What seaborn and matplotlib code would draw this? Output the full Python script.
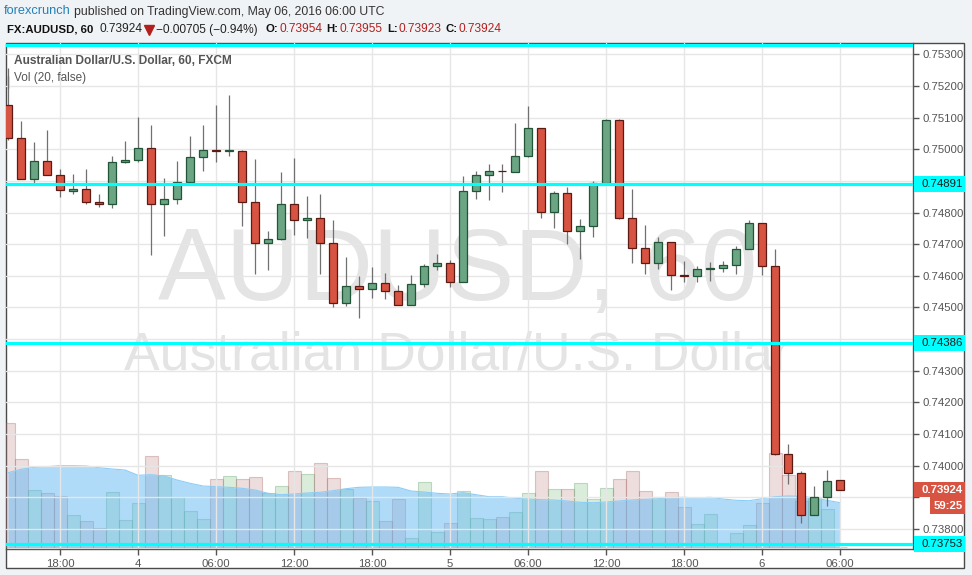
import numpy as np
import pandas as pd
import matplotlib
matplotlib.use("Agg")
import matplotlib.pyplot as plt
import matplotlib.transforms as mtransforms
from matplotlib.patches import Rectangle
from matplotlib.lines import Line2D
from matplotlib.ticker import FuncFormatter
import seaborn as sns

# AUDUSD hourly candles, 2016-05-03 14:00 .. 2016-05-06 06:00 UTC
opens = [0.75140, 0.75037, 0.74907, 0.74964, 0.74920, 0.74869, 0.74875, 0.74834, 0.74828, 0.74961,
         0.74967, 0.75005, 0.74828, 0.74843, 0.74897, 0.74974, 0.74998, 0.74995, 0.74996, 0.74834,
         0.74704, 0.74716, 0.74828, 0.74777, 0.74783, 0.74704, 0.74513, 0.74567, 0.74558, 0.74577,
         0.74551, 0.74507, 0.74574, 0.74631, 0.74640, 0.74580, 0.74869, 0.74920, 0.74932, 0.74929,
         0.74980, 0.75066, 0.74802, 0.74862, 0.74742, 0.74758, 0.74894, 0.75094, 0.74783, 0.74688,
         0.74639, 0.74707, 0.74602, 0.74599, 0.74621, 0.74624, 0.74634, 0.74685, 0.74767, 0.74631,
         0.74035, 0.73975, 0.73843, 0.73899, 0.73954]
highs = [0.75257, 0.75089, 0.75022, 0.75060, 0.74937, 0.74921, 0.74937, 0.74857, 0.74978, 0.75025,
         0.75102, 0.75076, 0.74908, 0.74962, 0.75041, 0.75076, 0.75140, 0.75171, 0.74997, 0.74968,
         0.74740, 0.74927, 0.74971, 0.74851, 0.74860, 0.74775, 0.74660, 0.74600, 0.74629, 0.74610,
         0.74571, 0.74603, 0.74638, 0.74670, 0.74650, 0.74914, 0.74930, 0.74952, 0.74952, 0.75083,
         0.75137, 0.75066, 0.74869, 0.74882, 0.74781, 0.74900, 0.75097, 0.75097, 0.74875, 0.74759,
         0.74722, 0.74707, 0.74648, 0.74632, 0.74644, 0.74648, 0.74693, 0.74777, 0.74767, 0.74685,
         0.74068, 0.73982, 0.73935, 0.73986, 0.73955]
lows = [0.75029, 0.74905, 0.74893, 0.74920, 0.74849, 0.74858, 0.74827, 0.74817, 0.74814, 0.74955,
        0.74960, 0.74665, 0.74725, 0.74827, 0.74894, 0.74931, 0.74960, 0.74979, 0.74757, 0.74604,
        0.74617, 0.74712, 0.74728, 0.74719, 0.74607, 0.74500, 0.74503, 0.74465, 0.74531, 0.74528,
        0.74507, 0.74507, 0.74564, 0.74617, 0.74564, 0.74580, 0.74842, 0.74840, 0.74865, 0.74929,
        0.74977, 0.74782, 0.74750, 0.74700, 0.74652, 0.74722, 0.74894, 0.74779, 0.74639, 0.74607,
        0.74621, 0.74556, 0.74579, 0.74579, 0.74582, 0.74611, 0.74607, 0.74685, 0.74602, 0.74033,
        0.73942, 0.73819, 0.73843, 0.73872, 0.73923]
closes = [0.75037, 0.74907, 0.74964, 0.74920, 0.74870, 0.74875, 0.74834, 0.74828, 0.74961, 0.74967,
          0.75005, 0.74828, 0.74843, 0.74897, 0.74974, 0.74999, 0.74996, 0.74997, 0.74834, 0.74704,
          0.74716, 0.74828, 0.74777, 0.74783, 0.74704, 0.74513, 0.74567, 0.74558, 0.74577, 0.74551,
          0.74507, 0.74574, 0.74631, 0.74640, 0.74580, 0.74869, 0.74920, 0.74932, 0.74930, 0.74980,
          0.75066, 0.74802, 0.74862, 0.74742, 0.74758, 0.74894, 0.75094, 0.74783, 0.74688, 0.74640,
          0.74707, 0.74602, 0.74600, 0.74621, 0.74623, 0.74634, 0.74685, 0.74767, 0.74631, 0.74035,
          0.73975, 0.73843, 0.73899, 0.73951, 0.73924]
volumes = [124, 88, 57, 54, 51, 32, 26, 19, 55, 27, 44, 91, 72, 50, 36, 28, 68, 71, 68, 70,
           54, 61, 76, 73, 84, 69, 58, 49, 46, 26, 48, 9, 65, 15, 24, 56, 29, 28, 30, 35,
           54, 76, 58, 58, 64, 48, 59, 68, 76, 56, 50, 55, 40, 23, 33, 2, 14, 22, 44, 94,
           72, 46, 50, 38, 0]
vol_ma = [74.3, 77.7, 79.7, 80.3, 81.3, 81.3, 81.0, 79.3, 78.0, 77.0, 71.7, 72.3, 71.0, 67.0, 63.7,
          61.0, 60.3, 59.7, 58.7, 57.0, 53.7, 52.3, 53.0, 54.0, 54.7, 56.3, 58.3, 59.7, 60.0, 60.0,
          59.7, 56.0, 55.0, 53.7, 53.0, 54.3, 52.3, 50.3, 50.3, 48.7, 48.0, 47.3, 47.0, 46.0, 44.7,
          44.3, 45.0, 46.0, 47.0, 47.7, 48.3, 49.3, 49.7, 49.0, 49.7, 48.0, 46.7, 46.3, 48.3, 50.3,
          51.0, 50.7, 49.0, 46.7, 44.3]

tick_times = ['2016-05-03 18:00', '2016-05-04 00:00', '2016-05-04 06:00', '2016-05-04 12:00',
              '2016-05-04 18:00', '2016-05-05 00:00', '2016-05-05 06:00', '2016-05-05 12:00',
              '2016-05-05 18:00', '2016-05-06 00:00', '2016-05-06 06:00']
tick_labels = ['18:00', '4', '06:00', '12:00', '18:00', '5', '06:00', '12:00', '18:00', '6', '06:00']

levels = [0.75331, 0.74891, 0.74386, 0.73753]
level_labels = [None, '0.74891', '0.74386', '0.73753']
last_price = '0.73924'
countdown = '59:25'

opens, highs, lows, closes = map(np.array, (opens, highs, lows, closes))
volumes = np.array(volumes)
vol_ma = np.array(vol_ma)

start = pd.Timestamp('2016-05-03 14:00')
times = pd.date_range(start, periods=len(opens), freq='h')
x = ((times - start) / pd.Timedelta(hours=1)).to_numpy()
tick_x = ((pd.to_datetime(tick_times) - start) / pd.Timedelta(hours=1)).to_numpy()
up = closes >= opens

sns.set_style("whitegrid")
plt.rcParams['font.family'] = ['Liberation Sans', 'DejaVu Sans']

W, H = 972, 575
fig = plt.figure(figsize=(W / 100, H / 100), dpi=100, facecolor='#f0f3f6')


def fx(px):
    return px / W


def fy(py):
    return 1 - py / H


# white chart panel with frame
fig.patches.append(Rectangle((fx(6), fy(568)), fx(964) - fx(6), fy(43) - fy(568),
                             transform=fig.transFigure, facecolor='white',
                             edgecolor='#4a4a4a', lw=1, zorder=0))

rect = [fx(6), fy(549), fx(913) - fx(6), fy(43) - fy(549)]
axv = fig.add_axes(rect, zorder=1)
ax = fig.add_axes(rect, zorder=2)
ax.patch.set_visible(False)

xlim = (-0.154, 69.615)
ylim = (0.73736, 0.75336)

# watermark
axv.text(fx(458), fy(300), 'AUDUSD, 60', transform=fig.transFigure, ha='center', va='baseline',
         fontsize=73.3, color='#e4e4e4', zorder=0)
axv.text(fx(457), fy(370), 'Australian Dollar/U.S. Dollar', transform=fig.transFigure,
         ha='center', va='baseline', fontsize=38.5, color='#e4e4e4', zorder=0)

# volume pane
red_face = (187 / 255, 123 / 255, 123 / 255, 0.25)
grn_face = (111 / 255, 187 / 255, 111 / 255, 0.25)
red_edge = (0.65, 0.40, 0.40, 0.35)
grn_edge = (0.35, 0.62, 0.40, 0.35)
axv.bar(x, volumes, width=1.0, color=[grn_face if u else red_face for u in up],
        edgecolor=[grn_edge if u else red_edge for u in up], linewidth=0.8, zorder=2)
axv.fill_between(x, 0, vol_ma, color='#61b9f5', alpha=0.5, lw=0, zorder=3)
sns.lineplot(x=x, y=vol_ma, ax=axv, color='#8ccdf7', lw=0.8, zorder=3)
axv.set_xlim(xlim)
axv.set_ylim(-2, 504)
axv.axis('off')

# candles
ax.vlines(x, lows, highs, color='#707070', lw=0.9, zorder=3)
body_bottom = np.minimum(opens, closes)
body_h = np.maximum(np.abs(closes - opens), 0.00002)
ax.bar(x, body_h, bottom=body_bottom, width=0.62,
       color=np.where(up, '#6ba583', '#d75442'),
       edgecolor=np.where(up, '#225437', '#5b1a13'), linewidth=0.9, zorder=4)

for lv in levels:
    ax.axhline(lv, color='#00ffff', lw=2.3, zorder=5)

ax.set_xlim(xlim)
ax.set_ylim(ylim)
ax.set_xticks(tick_x)
ax.set_xticklabels(tick_labels)
ax.set_yticks(np.arange(0.738, 0.75301, 0.001))

# tick labels hidden under the price-scale boxes are left blank
covered = [lv for lv in levels[1:]] + [float(last_price)]


def price_fmt(v, pos):
    if any(abs(v - c) < 0.0003 for c in covered):
        return ''
    return f'{v:.5f}'


ax.yaxis.set_major_formatter(FuncFormatter(price_fmt))
ax.yaxis.tick_right()
ax.grid(True, color='#e6e6e6', lw=1)
ax.set_axisbelow(True)
ax.tick_params(axis='both', direction='out', length=4, width=1, color='#555555',
               labelcolor='#555555', labelsize=8.2, pad=3)
ax.tick_params(axis='y', right=True, left=False)
ax.tick_params(axis='x', bottom=True)
for side in ['top', 'left']:
    ax.spines[side].set_visible(False)
for side in ['right', 'bottom']:
    ax.spines[side].set_color('#555555')
    ax.spines[side].set_linewidth(1)

# price scale boxes
bt = mtransforms.blended_transform_factory(fig.transFigure, ax.transData)
dpp = (ylim[1] - ylim[0]) / 506.0
for lv, lab in zip(levels, level_labels):
    if lab is None:
        continue
    fig.add_artist(Rectangle((fx(914), lv - 8 * dpp), fx(965) - fx(914), 16 * dpp,
                             transform=bt, facecolor='#00ffff', edgecolor='none', zorder=10))
    fig.text(fx(921), lv, lab, transform=bt, ha='left', va='center', fontsize=8.2,
             color='#1a1a1a', zorder=11)

lp = float(last_price)
fig.add_artist(Rectangle((fx(914), lp - 7.5 * dpp), fx(965) - fx(914), 15 * dpp,
                         transform=bt, facecolor='#d75442', edgecolor='none', zorder=10))
fig.text(fx(921), lp, last_price, transform=bt, ha='left', va='center', fontsize=8.2,
         color='white', fontweight='bold', zorder=11)
fig.add_artist(Rectangle((fx(930), lp - 24.5 * dpp), fx(965) - fx(930), 17 * dpp,
                         transform=bt, facecolor='#d75442', edgecolor='none', zorder=10))
fig.text(fx(934), lp - 16 * dpp, countdown, transform=bt, ha='left', va='center', fontsize=8.2,
         color='white', fontweight='bold', zorder=11)

# header
fig.text(fx(4), fy(11.5), 'forexcrunch', color='#2180b9', fontsize=9.2, va='center')
fig.text(fx(74), fy(11.5), 'published on TradingView.com, May 06, 2016 06:00 UTC',
         color='#333333', fontsize=8.8, va='center')

y2 = fy(29.5)
fig.text(fx(7), y2, 'FX:AUDUSD, 60', color='#111111', fontsize=8.2, fontweight='bold', va='center')
fig.text(fx(99), y2, '0.73924', color='#222222', fontsize=8.6, va='center')
fig.add_artist(Line2D([fx(148.5)], [fy(30)], marker='v', markersize=6.5, color='#b2201e',
                      transform=fig.transFigure))
fig.text(fx(156), y2, '\u22120.00705 (\u22120.94%)', color='#222222', fontsize=8.6, va='center')
for lab, xl, val, xv in [('O:', 265, '0.73954', 279), ('H:', 326, '0.73955', 339),
                         ('L:', 387, '0.73923', 398), ('C:', 445, '0.73924', 458)]:
    fig.text(fx(xl), y2, lab, color='#111111', fontsize=8.2, fontweight='bold', va='center')
    fig.text(fx(xv), y2, val, color='#b2201e', fontsize=8.6, va='center')

# pane titles
fig.text(fx(14), fy(61.5), 'Australian Dollar/U.S. Dollar, 60, FXCM', color='#555555',
         fontsize=8.6, fontweight='bold', va='center')
fig.text(fx(14), fy(78), 'Vol (20, false)', color='#555555', fontsize=8.5, va='center')
fig.add_artist(Line2D([fx(7.5), fx(7.5)], [fy(76), fy(88)], color='#666666', lw=1,
                      transform=fig.transFigure))

plt.savefig('out.png', dpi=100, facecolor=fig.get_facecolor())
